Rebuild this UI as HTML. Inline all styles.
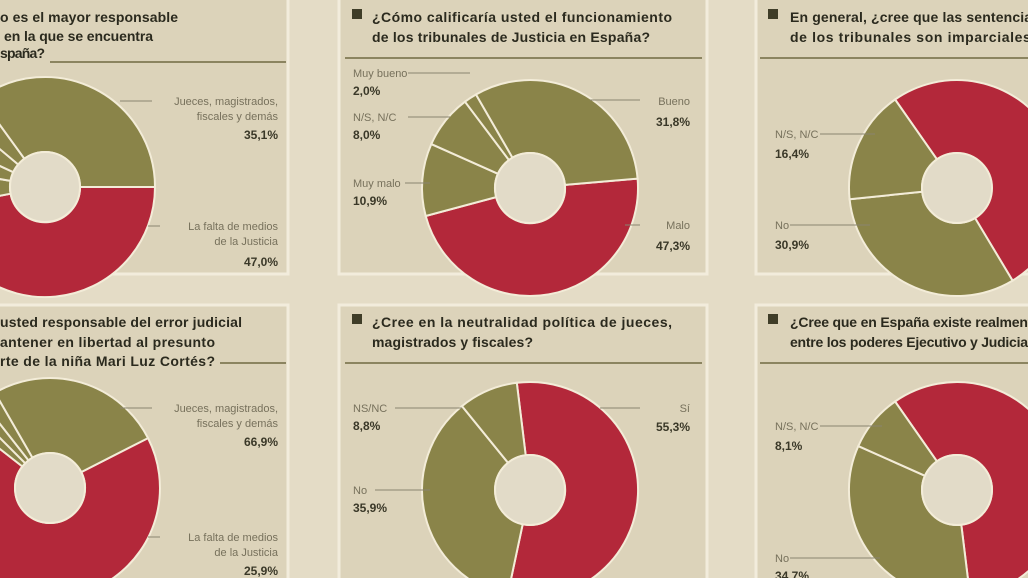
<!DOCTYPE html>
<html><head><meta charset="utf-8"><style>
html,body{margin:0;padding:0;background:#e4dcc6;}
svg{display:block}
.t{font-family:"Liberation Sans",sans-serif;font-weight:bold;font-size:14px;fill:#2b2a1e}
.l{font-family:"Liberation Sans",sans-serif;font-size:11px;fill:#77715c}
.v{font-family:"Liberation Sans",sans-serif;font-weight:bold;font-size:12px;fill:#3a3828}
</style></head><body>
<svg id="s" width="1028" height="578" xmlns="http://www.w3.org/2000/svg">
<rect width="1028" height="578" fill="#e4dcc6"/>
<g fill="#dcd3ba" stroke="#f2ecdc" stroke-width="3">
<rect x="-10" y="-10" width="298" height="284"/>
<rect x="339" y="-10" width="368" height="284"/>
<rect x="756" y="-10" width="290" height="284"/>
<rect x="-10" y="305" width="298" height="290"/>
<rect x="339" y="305" width="368" height="290"/>
<rect x="756" y="305" width="290" height="290"/>
</g>
<g stroke="#8b8460" stroke-width="2">
<line x1="50" y1="62" x2="286" y2="62"/>
<line x1="345" y1="58" x2="702" y2="58"/>
<line x1="760" y1="58" x2="1028" y2="58"/>
<line x1="220" y1="363" x2="286" y2="363"/>
<line x1="345" y1="363" x2="702" y2="363"/>
<line x1="760" y1="363" x2="1028" y2="363"/>
</g>
<g fill="#3f3d28">
<rect x="352" y="9" width="10" height="10"/>
<rect x="768" y="9" width="10" height="10"/>
<rect x="352" y="314" width="10" height="10"/>
<rect x="768" y="314" width="10" height="10"/>
</g>
<g id="donuts"></g>
<g class="t">
<text x="0" y="22" textLength="178">o es el mayor responsable</text>
<text x="4" y="41" textLength="149">en la que se encuentra</text>
<text x="0" y="58" textLength="45">spaña?</text>
<text x="372" y="22" textLength="300">¿Cómo calificaría usted el funcionamiento</text>
<text x="372" y="42" textLength="278">de los tribunales de Justicia en España?</text>
<text x="790" y="22" textLength="250">En general, ¿cree que las sentencias</text>
<text x="790" y="42" textLength="250">de los tribunales son imparciales?</text>
<text x="0" y="327" textLength="242">usted responsable del error judicial</text>
<text x="0" y="347" textLength="215">antener en libertad al presunto</text>
<text x="0" y="366" textLength="215">rte de la niña Mari Luz Cortés?</text>
<text x="372" y="327" textLength="300">¿Cree en la neutralidad política de jueces,</text>
<text x="372" y="347" textLength="161">magistrados y fiscales?</text>
<text x="790" y="327" textLength="250">¿Cree que en España existe realmente</text>
<text x="790" y="347" textLength="250">entre los poderes Ejecutivo y Judicial?</text>
</g>
<g stroke="#8a8570" stroke-width="1">
<line x1="120" y1="101" x2="152" y2="101"/><line x1="148" y1="226" x2="160" y2="226"/>
<line x1="408" y1="73" x2="470" y2="73"/><line x1="408" y1="117" x2="450" y2="117"/><line x1="405" y1="183" x2="430" y2="183"/>
<line x1="590" y1="100" x2="640" y2="100"/><line x1="625" y1="225" x2="640" y2="225"/>
<line x1="820" y1="134" x2="875" y2="134"/><line x1="790" y1="225" x2="870" y2="225"/>
<line x1="120" y1="408" x2="152" y2="408"/><line x1="148" y1="537" x2="160" y2="537"/>
<line x1="395" y1="408" x2="462" y2="408"/><line x1="375" y1="490" x2="430" y2="490"/><line x1="600" y1="408" x2="640" y2="408"/>
<line x1="820" y1="426" x2="882" y2="426"/><line x1="790" y1="558" x2="880" y2="558"/>
</g>
<g class="l" text-anchor="end">
<text x="278" y="105">Jueces, magistrados,</text><text x="278" y="120">fiscales y demás</text>
<text x="278" y="230">La falta de medios</text><text x="278" y="245">de la Justicia</text>
<text x="690" y="105">Bueno</text><text x="690" y="229">Malo</text>
<text x="278" y="412">Jueces, magistrados,</text><text x="278" y="427">fiscales y demás</text>
<text x="278" y="541">La falta de medios</text><text x="278" y="556">de la Justicia</text>
<text x="690" y="412">Sí</text>
</g>
<g class="v" text-anchor="end">
<text x="278" y="139">35,1%</text><text x="278" y="266">47,0%</text>
<text x="690" y="126">31,8%</text><text x="690" y="250">47,3%</text>
<text x="278" y="446">66,9%</text><text x="278" y="575">25,9%</text>
<text x="690" y="431">55,3%</text>
</g>
<g class="l">
<text x="353" y="77">Muy bueno</text><text x="353" y="121">N/S, N/C</text><text x="353" y="187">Muy malo</text>
<text x="775" y="138">N/S, N/C</text><text x="775" y="229">No</text>
<text x="353" y="412">NS/NC</text><text x="353" y="494">No</text>
<text x="775" y="430">N/S, N/C</text><text x="775" y="562">No</text>
</g>
<g class="v">
<text x="353" y="95">2,0%</text><text x="353" y="139">8,0%</text><text x="353" y="205">10,9%</text>
<text x="775" y="158">16,4%</text><text x="775" y="249">30,9%</text>
<text x="353" y="430">8,8%</text><text x="353" y="512">35,9%</text>
<text x="775" y="450">8,1%</text><text x="775" y="580">34,7%</text>
</g>
</svg>
<script>
var R="#b3283a",O="#8a8449";
var D=[
[45,187,110,[[0,169,R],[169,190,O],[190,205,O],[205,220,O],[220,234,O],[234,360,O]]],
[530,188,108,[[-5,165,R],[165,204,O],[204,233,O],[233,240,O],[240,355,O]]],
[957,188,108,[[-125,59,R],[59,174,O],[174,235,O]]],
[50,488,110,[[-27,218,R],[218,225,O],[225,232,O],[232,240,O],[240,333,O]]],
[530,490,108,[[-97,102,R],[102,231,O],[231,263,O]]],
[957,490,108,[[-125,83,R],[83,204,O],[204,235,O]]]
];
var g=document.getElementById("donuts"),h="";
function p(cx,cy,r,a){a=a*Math.PI/180;return (cx+r*Math.cos(a)).toFixed(1)+" "+(cy+r*Math.sin(a)).toFixed(1);}
D.forEach(function(d){var cx=d[0],cy=d[1],r=d[2],ri=35;
d[3].forEach(function(s){var a0=s[0],a1=s[1],lg=(a1-a0)>180?1:0;
h+='<path d="M'+p(cx,cy,r,a0)+' A'+r+' '+r+' 0 '+lg+' 1 '+p(cx,cy,r,a1)+' L'+p(cx,cy,ri,a1)+' A'+ri+' '+ri+' 0 '+lg+' 0 '+p(cx,cy,ri,a0)+' Z" fill="'+s[2]+'" stroke="#f3ecd8" stroke-width="2"/>';});
h+='<circle cx="'+cx+'" cy="'+cy+'" r="'+ri+'" fill="#e2dbc8" stroke="#f3ecd8" stroke-width="2"/>';});
g.innerHTML=h;
</script>
</body></html>
